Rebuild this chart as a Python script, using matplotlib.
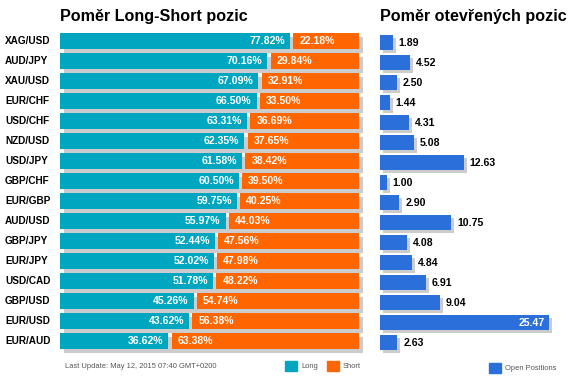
import matplotlib
matplotlib.use('Agg')
import matplotlib.pyplot as plt
import matplotlib.transforms as mtransforms
from matplotlib.patches import Patch
import numpy as np

plt.rcParams['font.family'] = ['Liberation Sans', 'DejaVu Sans']

pairs = ['XAG/USD', 'AUD/JPY', 'XAU/USD', 'EUR/CHF', 'USD/CHF', 'NZD/USD', 'USD/JPY', 'GBP/CHF',
         'EUR/GBP', 'AUD/USD', 'GBP/JPY', 'EUR/JPY', 'USD/CAD', 'GBP/USD', 'EUR/USD', 'EUR/AUD']
long_pct = [77.82, 70.16, 67.09, 66.50, 63.31, 62.35, 61.58, 60.50,
            59.75, 55.97, 52.44, 52.02, 51.78, 45.26, 43.62, 36.62]
short_pct = [22.18, 29.84, 32.91, 33.50, 36.69, 37.65, 38.42, 39.50,
             40.25, 44.03, 47.56, 47.98, 48.22, 54.74, 56.38, 63.38]
open_pos = [1.89, 4.52, 2.50, 1.44, 4.31, 5.08, 12.63, 1.00,
            2.90, 10.75, 4.08, 4.84, 6.91, 9.04, 25.47, 2.63]

TEAL = '#00a6c0'
ORANGE = '#ff6600'
BLUE = '#2a6fda'
SHADOW = '#cccccc'

W, H = 575, 391
fig = plt.figure(figsize=(W / 100, H / 100), dpi=100)


def px_axes(x0, y0, x1, y1):
    # axes placed by pixel box (top-left origin)
    return fig.add_axes([x0 / W, 1 - y1 / H, (x1 - x0) / W, (y1 - y0) / H])


n = len(pairs)
rows = np.arange(n)
longs = np.array(long_pct)
shorts = np.array(short_pct)
gap = 1.1

# left panel: long / short ratio
axL = px_axes(60, 30.7, 359, 350.7)
axL.set_xlim(0, 100 + gap)
axL.set_ylim(n - 0.5, -0.5)
shL = mtransforms.offset_copy(axL.transData, fig=fig, x=4, y=-4, units='dots')
axL.barh(rows, longs + gap + shorts, height=0.8, color=SHADOW, transform=shL, clip_on=False, zorder=1)
axL.barh(rows, longs, height=0.8, color=TEAL, zorder=2)
axL.barh(rows, shorts, left=longs + gap, height=0.8, color=ORANGE, zorder=2)
for i in range(n):
    axL.annotate(f'{long_pct[i]:.2f}%', xy=(longs[i], i), xytext=(-5, 0), textcoords='offset pixels',
                 ha='right', va='center', color='white', fontsize=7.6, fontweight='bold', zorder=3)
    axL.annotate(f'{short_pct[i]:.2f}%', xy=(longs[i] + gap, i), xytext=(6, 0), textcoords='offset pixels',
                 ha='left', va='center', color='white', fontsize=7.6, fontweight='bold', zorder=3)
    axL.annotate(pairs[i], xy=(0, i), xycoords=('axes fraction', 'data'), xytext=(-55, 0),
                 textcoords='offset pixels', ha='left', va='center', color='black',
                 fontsize=7.2, fontweight='bold', annotation_clip=False)
axL.axis('off')

# right panel: open positions
px_per_unit = 6.62
axR = px_axes(380, 32.7, 570, 352.7)
axR.set_xlim(0, 190 / px_per_unit)
axR.set_ylim(n - 0.5, -0.5)
shR = mtransforms.offset_copy(axR.transData, fig=fig, x=3, y=-3, units='dots')
axR.barh(rows, open_pos, height=0.76, color=SHADOW, transform=shR, clip_on=False, zorder=1)
axR.barh(rows, open_pos, height=0.76, color=BLUE, zorder=2)
for i, v in enumerate(open_pos):
    if v > 20:
        axR.annotate(f'{v:.2f}', xy=(v, i), xytext=(-4, 0), textcoords='offset pixels',
                     ha='right', va='center', color='white', fontsize=7.6, fontweight='bold', zorder=3)
    else:
        axR.annotate(f'{v:.2f}', xy=(v, i), xytext=(6, 0), textcoords='offset pixels',
                     ha='left', va='center', color='black', fontsize=7.6, fontweight='bold', zorder=3)
axR.axis('off')

# titles
fig.text(60 / W, 1 - 21.5 / H, 'Poměr Long-Short pozic', fontsize=11.6, fontweight='bold', va='baseline')
fig.text(380 / W, 1 - 21.5 / H, 'Poměr otevřených pozic', fontsize=11.6, fontweight='bold', va='baseline')

# footer
fig.text(65 / W, 1 - 366 / H, 'Last Update: May 12, 2015 07:40 GMT+0200', fontsize=5.4,
         color='#555555', va='center')
fig.legend(handles=[Patch(color=TEAL, label='Long'), Patch(color=ORANGE, label='Short')],
           loc='upper left', bbox_to_anchor=(285 / W, 1 - 361 / H), ncol=2, frameon=False,
           fontsize=5.4, handlelength=1.6, handleheight=1.67, handletextpad=0.57,
           columnspacing=1.16, borderpad=0, borderaxespad=0, labelcolor='#555555')
fig.legend(handles=[Patch(color=BLUE, label='Open Positions')],
           loc='upper left', bbox_to_anchor=(489 / W, 1 - 362.7 / H), frameon=False,
           fontsize=5.4, handlelength=1.6, handleheight=1.67, handletextpad=0.57,
           borderpad=0, borderaxespad=0, labelcolor='#555555')

fig.savefig('out.png', dpi=100)
